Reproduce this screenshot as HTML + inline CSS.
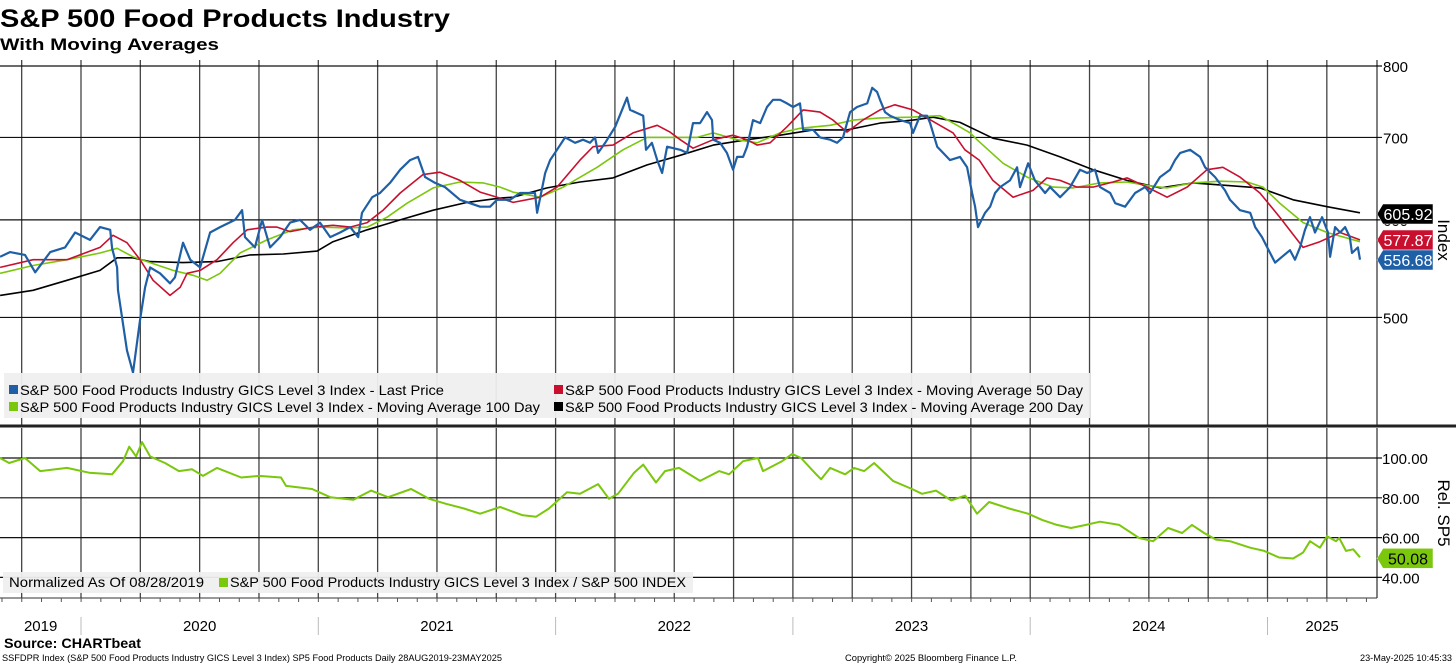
<!DOCTYPE html>
<html><head><meta charset="utf-8"><style>
html,body{margin:0;padding:0;background:#fff;width:1456px;height:665px;overflow:hidden}
svg{display:block;font-family:"Liberation Sans",sans-serif}
</style></head><body>
<svg id="chart" width="1456" height="665" viewBox="0 0 1456 665" xmlns="http://www.w3.org/2000/svg">
<text x="0" y="27" font-size="25" font-weight="bold" textLength="450" lengthAdjust="spacingAndGlyphs">S&amp;P 500 Food Products Industry</text>
<text x="0" y="50" font-size="17" font-weight="bold" textLength="219" lengthAdjust="spacingAndGlyphs">With Moving Averages</text>
<g id="grid"></g>
<g id="series"></g>
<g id="axes"></g>
<g>
<rect x="4" y="373" width="1086" height="45" fill="#efefef" opacity="0.95"/>
<rect x="9" y="385" width="9" height="9" fill="#1f5fa6"/>
<text x="20" y="395" font-size="14" textLength="424" lengthAdjust="spacingAndGlyphs">S&amp;P 500 Food Products Industry GICS Level 3 Index - Last Price</text>
<rect x="554" y="385" width="9" height="9" fill="#c8102e"/>
<text x="565" y="395" font-size="14" textLength="518" lengthAdjust="spacingAndGlyphs">S&amp;P 500 Food Products Industry GICS Level 3 Index - Moving Average 50 Day</text>
<rect x="9" y="402" width="9" height="9" fill="#7ac70c"/>
<text x="20" y="412" font-size="14" textLength="520" lengthAdjust="spacingAndGlyphs">S&amp;P 500 Food Products Industry GICS Level 3 Index - Moving Average 100 Day</text>
<rect x="554" y="402" width="9" height="9" fill="#000"/>
<text x="565" y="412" font-size="14" textLength="518" lengthAdjust="spacingAndGlyphs">S&amp;P 500 Food Products Industry GICS Level 3 Index - Moving Average 200 Day</text>
</g>
<g>
<rect x="3" y="572" width="690" height="21" fill="#efefef" opacity="0.95"/>
<text x="9" y="587" font-size="14" textLength="195" lengthAdjust="spacingAndGlyphs">Normalized As Of 08/28/2019</text>
<rect x="219" y="578" width="9" height="9" fill="#7ac70c"/>
<text x="230" y="587" font-size="14" textLength="456" lengthAdjust="spacingAndGlyphs">S&amp;P 500 Food Products Industry GICS Level 3 Index / S&amp;P 500 INDEX</text>
</g>
<text transform="translate(1438,240) rotate(90)" font-size="17" text-anchor="middle">Index</text>
<text transform="translate(1438,513) rotate(90)" font-size="17" text-anchor="middle">Rel. SP5</text>
<text x="4" y="648" font-size="14" font-weight="bold" textLength="137" lengthAdjust="spacingAndGlyphs">Source: CHARTbeat</text>
<text x="2" y="661" font-size="9.5" textLength="500" lengthAdjust="spacingAndGlyphs">SSFDPR Index (S&amp;P 500 Food Products Industry GICS Level 3 Index) SP5 Food Products  Daily 28AUG2019-23MAY2025</text>
<text x="845" y="661" font-size="9.5" textLength="172" lengthAdjust="spacingAndGlyphs">Copyright© 2025 Bloomberg Finance L.P.</text>
<text x="1360" y="661" font-size="9.5" textLength="92" lengthAdjust="spacingAndGlyphs">23-May-2025 10:45:33</text>
</svg>
<script>
const priceDates=[2019.659,2019.701,2019.764,2019.807,2019.870,2019.933,2019.975,2020.038,2020.080,2020.123,2020.131,2020.152,2020.156,2020.194,2020.219,2020.249,2020.270,2020.291,2020.333,2020.375,2020.396,2020.430,2020.460,2020.502,2020.544,2020.586,2020.649,2020.679,2020.691,2020.733,2020.763,2020.797,2020.839,2020.881,2020.923,2020.965,2021.007,2021.050,2021.092,2021.134,2021.168,2021.184,2021.227,2021.260,2021.302,2021.345,2021.387,2021.420,2021.450,2021.492,2021.534,2021.597,2021.639,2021.682,2021.724,2021.753,2021.808,2021.850,2021.913,2021.922,2021.956,2021.977,2022.006,2022.040,2022.082,2022.116,2022.145,2022.166,2022.179,2022.209,2022.251,2022.301,2022.314,2022.369,2022.381,2022.406,2022.428,2022.449,2022.470,2022.525,2022.554,2022.579,2022.609,2022.638,2022.659,2022.664,2022.693,2022.722,2022.748,2022.765,2022.790,2022.807,2022.832,2022.862,2022.891,2022.916,2022.946,2022.975,2023.001,2023.030,2023.043,2023.085,2023.114,2023.157,2023.186,2023.211,2023.228,2023.241,2023.270,2023.313,2023.334,2023.355,2023.367,2023.388,2023.409,2023.452,2023.494,2023.506,2023.536,2023.565,2023.578,2023.608,2023.633,2023.662,2023.704,2023.734,2023.755,2023.768,2023.780,2023.810,2023.831,2023.852,2023.873,2023.915,2023.945,2023.957,2023.991,2024.020,2024.063,2024.084,2024.126,2024.168,2024.210,2024.240,2024.273,2024.294,2024.337,2024.358,2024.400,2024.442,2024.484,2024.505,2024.547,2024.589,2024.610,2024.632,2024.674,2024.716,2024.737,2024.779,2024.821,2024.842,2024.884,2024.927,2024.948,2024.977,2025.011,2025.032,2025.061,2025.095,2025.116,2025.137,2025.158,2025.179,2025.200,2025.230,2025.255,2025.264,2025.285,2025.306,2025.327,2025.347,2025.356,2025.381,2025.390];
const priceValues=[560,565,562,544,565,570,586,578,592,589,569,549,526,470,451,498,529,549,543,533,539,575,557,549,586,592,600,611,581,570,600,570,581,597,600,589,597,581,586,592,581,608,626,631,643,659,671,675,650,643,638,623,619,615,615,623,623,631,631,608,655,671,684,700,693,697,693,700,680,693,714,754,737,729,684,693,671,655,688,684,680,719,719,734,723,697,693,680,659,675,675,688,723,719,741,751,751,746,741,746,710,710,700,697,693,700,719,734,741,746,768,762,751,734,729,723,719,706,729,729,719,688,680,671,675,662,631,615,592,608,615,631,638,646,662,638,667,646,631,638,626,638,659,655,659,638,631,619,615,631,638,631,650,659,671,680,684,675,662,650,634,623,611,608,592,581,564,554,560,567,557,570,589,603,586,603,586,560,592,586,592,581,564,570,557];
const ma50Dates=[2019.659,2019.798,2019.941,2020.080,2020.135,2020.194,2020.249,2020.304,2020.375,2020.418,2020.447,2020.502,2020.573,2020.641,2020.700,2020.784,2020.826,2020.881,2020.978,2021.062,2021.134,2021.206,2021.273,2021.345,2021.441,2021.513,2021.597,2021.682,2021.766,2021.821,2021.935,2022.006,2022.103,2022.158,2022.242,2022.326,2022.428,2022.482,2022.525,2022.579,2022.664,2022.748,2022.807,2022.849,2022.904,2022.975,2023.043,2023.114,2023.169,2023.228,2023.295,2023.367,2023.430,2023.506,2023.565,2023.619,2023.675,2023.725,2023.785,2023.843,2023.928,2024.012,2024.071,2024.126,2024.197,2024.265,2024.349,2024.408,2024.492,2024.577,2024.661,2024.745,2024.812,2024.884,2024.968,2025.052,2025.150,2025.221,2025.306,2025.390];
const ma50Values=[549,557,557,570,583,575,557,536,521,529,543,546,557,575,589,592,592,587,592,594,592,597,611,631,653,656,646,632,625,620,626,638,671,688,690,706,716,707,697,686,697,703,697,690,693,714,737,734,723,707,723,737,744,737,726,716,706,684,671,646,626,634,649,646,638,638,644,649,638,626,638,659,662,650,631,603,570,576,586,578];
const ma100Dates=[2019.659,2019.798,2019.941,2020.080,2020.152,2020.219,2020.291,2020.388,2020.472,2020.531,2020.586,2020.670,2020.784,2020.894,2021.007,2021.121,2021.206,2021.290,2021.374,2021.484,2021.597,2021.694,2021.766,2021.821,2021.935,2022.032,2022.175,2022.284,2022.386,2022.495,2022.596,2022.664,2022.765,2022.849,2022.946,2023.030,2023.157,2023.254,2023.367,2023.494,2023.619,2023.692,2023.747,2023.776,2023.886,2023.987,2024.096,2024.181,2024.294,2024.408,2024.492,2024.577,2024.686,2024.800,2024.914,2024.981,2025.052,2025.150,2025.251,2025.390];
const ma100Values=[543,551,557,564,569,560,554,546,541,536,543,564,578,589,592,591,592,603,619,637,644,643,638,632,626,638,662,684,700,700,700,706,697,693,706,712,716,723,726,727,729,716,706,697,667,650,638,637,643,644,640,637,643,645,644,638,619,597,586,576];
const ma200Dates=[2019.659,2019.798,2019.941,2020.080,2020.152,2020.219,2020.291,2020.430,2020.573,2020.713,2020.852,2020.995,2021.062,2021.206,2021.345,2021.484,2021.627,2021.766,2021.821,2021.964,2022.103,2022.242,2022.386,2022.525,2022.664,2022.807,2022.946,2023.085,2023.228,2023.367,2023.506,2023.591,2023.704,2023.843,2023.987,2024.126,2024.265,2024.408,2024.547,2024.686,2024.829,2024.968,2025.108,2025.251,2025.390];
const ma200Values=[521,526,536,546,559,559,555,554,555,562,563,566,576,589,600,611,620,625,626,637,644,649,665,677,690,697,703,710,710,719,723,727,720,699,690,675,659,646,637,643,640,637,623,615,608];
const relDates=[2019.659,2019.697,2019.764,2019.828,2019.941,2020.034,2020.131,2020.177,2020.203,2020.232,2020.257,2020.291,2020.354,2020.413,2020.468,2020.514,2020.573,2020.675,2020.750,2020.843,2020.864,2020.974,2021.050,2021.147,2021.222,2021.294,2021.391,2021.467,2021.538,2021.614,2021.682,2021.766,2021.859,2021.918,2021.972,2022.048,2022.103,2022.179,2022.225,2022.263,2022.331,2022.369,2022.423,2022.461,2022.520,2022.609,2022.689,2022.731,2022.790,2022.853,2022.874,2022.954,2022.997,2023.034,2023.098,2023.119,2023.157,2023.220,2023.258,2023.300,2023.342,2023.422,2023.502,2023.544,2023.603,2023.667,2023.726,2023.776,2023.827,2023.911,2023.991,2024.050,2024.113,2024.172,2024.235,2024.294,2024.375,2024.459,2024.518,2024.581,2024.640,2024.682,2024.733,2024.783,2024.842,2024.927,2024.986,2025.049,2025.108,2025.150,2025.179,2025.221,2025.251,2025.289,2025.302,2025.331,2025.361,2025.390];
const relValues=[100,97.5,100,93.4,95,92.6,91.8,98.4,105.7,100.8,108,100.8,97.5,93.4,94.3,91,95,90.2,91,90.2,86,84.4,80.3,79,83.6,80.3,84.4,79.5,77,74.6,72,75.4,71.3,70.5,74.6,82.8,82,86.9,79.5,82,92.6,96.7,87.7,93.4,95,88.5,93.4,91.8,98.4,100,93.4,98.4,102,100,91.8,89.3,95,91.8,95,93.4,97.5,88.5,84.4,82,83.6,78.7,81.1,72,77.9,74.6,72,68.9,66.4,64.8,66.4,68,66.4,59.8,58.2,64.8,62.3,66.4,62.3,59,58.2,54.9,53.3,50,49.5,52.5,58.2,54.9,60.7,58.2,59.8,53.3,54.1,50.1];
const upperTicks=[800,700,600,500];
const lowerTicks=[100,80,60,40];
const yearLabels=["2019","2020","2021","2022","2023","2024","2025"];
const yearLabelDates=[2019.83,2020.5,2021.5,2022.5,2023.5,2024.5,2025.23];
const lastLabels=["605.92","577.87","556.68"];
const lastLabelValues=[605.92,577.87,556.68];
const relLastLabel="50.08";
const relLastValue=50.08;

const NS="http://www.w3.org/2000/svg";
const X0=81,YW=237.3,AX=1377;
function xScale(t){return X0+(t-2020)*YW;}
function yUp(v){return 66+Math.log(800/v)*535;}
function yLow(v){return 458+(100-v)*1.99;}
function mk(tag,attrs,parent){const e=document.createElementNS(NS,tag);for(const k in attrs)e.setAttribute(k,attrs[k]);parent.appendChild(e);return e;}
const grid=document.getElementById('grid'),series=document.getElementById('series'),axes=document.getElementById('axes');

// vertical quarterly gridlines
for(let q=2019.75;q<=2025.3;q+=0.25){
  const x=xScale(q);
  let l=mk('line',{x1:x,x2:x,y1:60,y2:425,stroke:'#444','stroke-width':1.3},grid);
  
  
  l=mk('line',{x1:x,x2:x,y1:428,y2:598,stroke:'#444','stroke-width':1.3},grid);
  
  
}
upperTicks.forEach(v=>{
  const y=yUp(v);
  const l=mk('line',{x1:0,x2:AX+5,y1:y,y2:y,stroke:'#111','stroke-width':1.2},grid);
  
  
  const t=mk('text',{x:AX+6,y:y+6,'font-size':15},axes);t.textContent=String(v);
  
  
});
lowerTicks.forEach(v=>{
  const y=yLow(v);
  const l=mk('line',{x1:0,x2:AX+5,y1:y,y2:y,stroke:'#111','stroke-width':1.2},grid);
  
  
  const t=mk('text',{x:AX+5,y:y+6,'font-size':15},axes);t.textContent=v.toFixed(2);
  
  
});
// axes lines
mk('line',{x1:AX,x2:AX,y1:60,y2:425,stroke:'#000','stroke-width':1},axes);
mk('line',{x1:AX,x2:AX,y1:428,y2:598,stroke:'#000','stroke-width':1},axes);
mk('line',{x1:0,x2:1456,y1:426,y2:426,stroke:'#222','stroke-width':3},axes);
mk('line',{x1:0,x2:AX,y1:598,y2:598,stroke:'#333','stroke-width':1},axes);
for(let m=2019.667;m<=2025.42;m+=1/12){
  const x=xScale(m);mk('line',{x1:x,x2:x,y1:598,y2:602,stroke:'#555','stroke-width':1},axes);
}
for(let yr=2020;yr<=2025;yr++){
  const x=xScale(yr);
  const d=mk('line',{x1:x,x2:x,y1:617,y2:635,stroke:'#bbb','stroke-width':1},axes);
  
  
}
yearLabels.forEach((s,i)=>{
  const t=mk('text',{x:xScale(yearLabelDates[i]),y:631,'font-size':15,'text-anchor':'middle'},axes);
  t.textContent=s;
  
  
});

function line(dates,vals,yf,color,w,name){
  const d=dates.map((t,i)=>(i?'L':'M')+xScale(t).toFixed(1)+','+yf(vals[i]).toFixed(1)).join('');
  const p=mk('path',{d:d,fill:'none',stroke:color,'stroke-width':w,'stroke-linejoin':'round'},series);
  
  
}
line(ma200Dates,ma200Values,yUp,'#000',1.6,'ma200-line');
line(ma100Dates,ma100Values,yUp,'#7ac70c',1.6,'ma100-line');
line(ma50Dates,ma50Values,yUp,'#c8102e',1.6,'ma50-line');
line(priceDates,priceValues,yUp,'#1f5fa6',2.2,'last-price-line');
line(relDates,relValues,yLow,'#7ac70c',2,'relative-line');

function tag(txt,y,bg,fg,name){
  const g=mk('g',{},axes);
  
  
  mk('polygon',{points:`${AX},${y} ${AX+6},${y-10} ${AX+56},${y-10} ${AX+56},${y+10} ${AX+6},${y+10}`,fill:bg,stroke:'#fff','stroke-width':0.5},g);
  const t=mk('text',{x:AX+31,y:y+6,'font-size':16,'text-anchor':'middle',fill:fg},g);t.textContent=txt;
}
const tagColors=['#000','#c8102e','#1f5fa6'];
const tagNames=['ma200-value-tag','ma50-value-tag','last-price-value-tag'];
lastLabels.forEach((s,i)=>{
  let y=yUp(lastLabelValues[i]);
  if(i===0)y=Math.min(y,214);
  if(i===1)y=Math.max(y,240);
  if(i===2)y=Math.max(y,259);
  tag(s,y,tagColors[i],'#fff',tagNames[i]);
});
tag(relLastLabel,yLow(relLastValue)+1,'#7ac70c','#000','relative-value-tag');
</script>
</body></html>
